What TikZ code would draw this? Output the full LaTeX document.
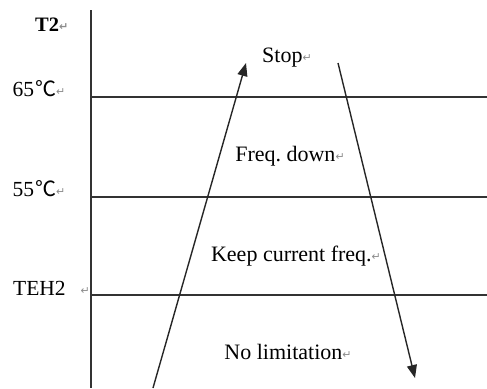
\documentclass[tikz,border=0pt]{standalone}
\usepackage{fontspec}
\setmainfont{Liberation Serif}
\newfontfamily\cjk{Noto Sans CJK SC}
\newfontfamily\symf{DejaVu Sans}
\usetikzlibrary{arrows.meta}
\newcommand{\pmark}{{\symf\fontsize{11}{11}\selectfont\color{black!45}\raisebox{1pt}{↵}}}
\newcommand{\degc}{{\cjk\fontsize{21}{21}\selectfont\hspace{1pt}℃}}
\tikzset{
  lbl/.style={anchor=base west, inner sep=0pt, font=\fontsize{21.5}{21.5}\selectfont},
  ctr/.style={anchor=base, inner sep=0pt, font=\fontsize{22}{22}\selectfont},
  axisline/.style={draw=black!80, line width=1.5pt},
  flow/.style={draw=black!85, line width=1.4pt, -{Triangle[length=13pt,width=10pt]}}
}
\begin{document}
\begin{tikzpicture}[x=1pt,y=-1pt]
\useasboundingbox (0,0) rectangle (487,388);
% axis and level lines
\coordinate (axtop) at (91,10);
\coordinate (axbot) at (91,388);
\coordinate (l65a) at (91,97);  \coordinate (l65b) at (487,97);
\coordinate (l55a) at (91,197); \coordinate (l55b) at (487,197);
\coordinate (lTa) at (91,295);  \coordinate (lTb) at (487,295);
\draw[axisline] (axtop) -- (axbot);
\draw[axisline] (l65a) -- (l65b);
\draw[axisline] (l55a) -- (l55b);
\draw[axisline] (lTa) -- (lTb);
% left labels
\node[lbl, font=\bfseries\fontsize{20.5}{20.5}\selectfont] (t2) at (35,31.5) {T2\pmark};
\node[lbl] (t65) at (12.5,96.5) {65\degc\pmark};
\node[lbl] (t55) at (12.5,196.5) {55\degc\pmark};
\node[lbl] (teh) at (13,295) {TEH2\hspace{15pt}\pmark};
% zone labels
\node[ctr] (stop) at (287,62) {Stop\pmark};
\node[ctr] (fdown) at (290,161) {Freq.\ down\pmark};
\node[ctr] (keep) at (296,261.5) {Keep current freq.\pmark};
\node[ctr] (nolim) at (288,359) {No limitation\pmark};
% arrows
\coordinate (upS) at (153,388);
\coordinate (upE) at (246,63);
\coordinate (dnS) at (338,63);
\coordinate (dnE) at (415,378);
\draw[flow] (upS) -- (upE);
\draw[flow] (dnS) -- (dnE);
\end{tikzpicture}
\end{document}
